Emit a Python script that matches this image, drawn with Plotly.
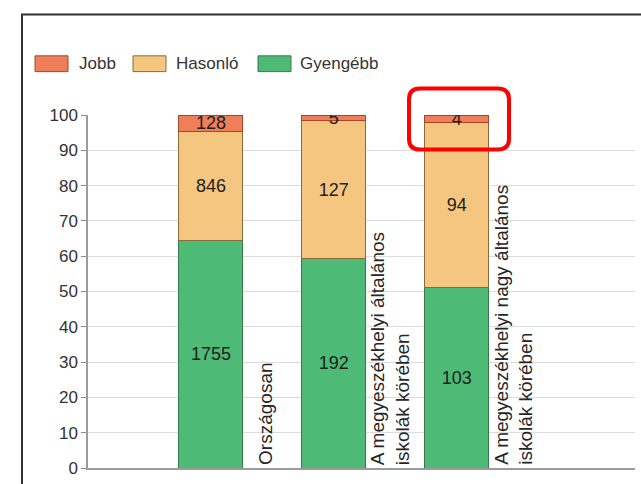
import plotly.graph_objects as go

categories = ["Országosan",
              "A megyeszékhelyi általános<br>iskolák körében",
              "A megyeszékhelyi nagy általános<br>iskolák körében"]
series_names = ["Gyengébb", "Hasonló", "Jobb"]
gyengebb = [1755, 192, 103]
hasonlo = [846, 127, 94]
jobb = [128, 5, 4]
y_ticks = [0, 10, 20, 30, 40, 50, 60, 70, 80, 90, 100]

W, H = 641, 484
L, R, T, B = 88, 6, 115, 11
PW, PH = W - L - R, H - T - B


def px(x):
    return (x - L) / PW


def py(y):
    return (H - B - y) / PH


xpos = [1, 2, 3]
colors = {"Gyengébb": "#4dba76", "Hasonló": "#f4c67f", "Jobb": "#ef7f58"}
lines = {"Gyengébb": "#3a7a4a", "Hasonló": "#8a6a3c", "Jobb": "#a8452c"}
values = {"Gyengébb": gyengebb, "Hasonló": hasonlo, "Jobb": jobb}

fig = go.Figure()
for name in series_names:
    fig.add_trace(go.Bar(
        x=xpos, y=values[name], name=name, width=0.52,
        marker=dict(color=colors[name], line=dict(color=lines[name], width=1)),
        text=[str(v) for v in values[name]], textposition="inside",
        insidetextanchor="middle", constraintext="none", textangle=0,
        textfont=dict(size=18, color="#1e1e1e", family="Liberation Sans, Arial"),
        showlegend=False,
    ))

anns = []
shifts = [54, 56, 57]
for i, c in enumerate(categories):
    anns.append(dict(x=xpos[i], y=0, xref="x", yref="y", text=c, showarrow=False,
                     textangle=-90, xanchor="center", yanchor="bottom", align="left",
                     xshift=shifts[i], yshift=1,
                     font=dict(size=19, color="#262626", family="Liberation Sans, Arial")))

shapes = []
# legend
leg = [("Jobb", 35, 77), ("Hasonló", 133, 174), ("Gyengébb", 258, 298)]
for name, sx, tx in leg:
    shapes.append(dict(type="rect", xref="paper", yref="paper",
                       x0=px(sx), x1=px(sx + 33), y0=py(71), y1=py(55),
                       fillcolor=colors[name], line=dict(color=lines[name], width=1)))
    anns.append(dict(x=px(tx), y=py(63), xref="paper", yref="paper", text=name,
                     showarrow=False, xanchor="left", yanchor="middle",
                     font=dict(size=17, color="#333333", family="Liberation Sans, Arial")))

# outer frame
shapes.append(dict(type="path", xref="paper", yref="paper",
                   path=f"M {px(22)},{py(495)} L {px(22)},{py(13)} L {px(650)},{py(13)}",
                   line=dict(color="#333333", width=2)))

# red rounded highlight box
x0, x1, y0, y1, r = 409, 509, 88, 150, 11
p = (f"M {px(x0 + r)},{py(y0)} L {px(x1 - r)},{py(y0)} "
     f"Q {px(x1)},{py(y0)} {px(x1)},{py(y0 + r)} L {px(x1)},{py(y1 - r)} "
     f"Q {px(x1)},{py(y1)} {px(x1 - r)},{py(y1)} L {px(x0 + r)},{py(y1)} "
     f"Q {px(x0)},{py(y1)} {px(x0)},{py(y1 - r)} L {px(x0)},{py(y0 + r)} "
     f"Q {px(x0)},{py(y0)} {px(x0 + r)},{py(y0)} Z")
shapes.append(dict(type="path", xref="paper", yref="paper", path=p,
                   line=dict(color="#ff0000", width=4)))

fig.update_layout(
    width=W, height=H, margin=dict(l=L, r=R, t=T, b=B),
    barmode="stack", barnorm="percent",
    plot_bgcolor="white", paper_bgcolor="white",
    annotations=anns, shapes=shapes, showlegend=False,
    xaxis=dict(range=[0, 4.45], showticklabels=False, ticks="", showgrid=False,
               zeroline=False, showline=True, linecolor="#9a9a9a", linewidth=1.5),
    yaxis=dict(range=[0, 100], tickvals=y_ticks, ticks="outside", ticklen=5,
               tickcolor="#8a8a8a", showline=True, linecolor="#9a9a9a", linewidth=1.5,
               gridcolor="#dcdcdc", zeroline=False,
               tickfont=dict(size=17, color="#333333", family="Liberation Sans, Arial")),
)

fig.write_html("out.html", config={"displayModeBar": False},
               post_script="document.body.style.margin='0';document.body.style.overflow='hidden';")
